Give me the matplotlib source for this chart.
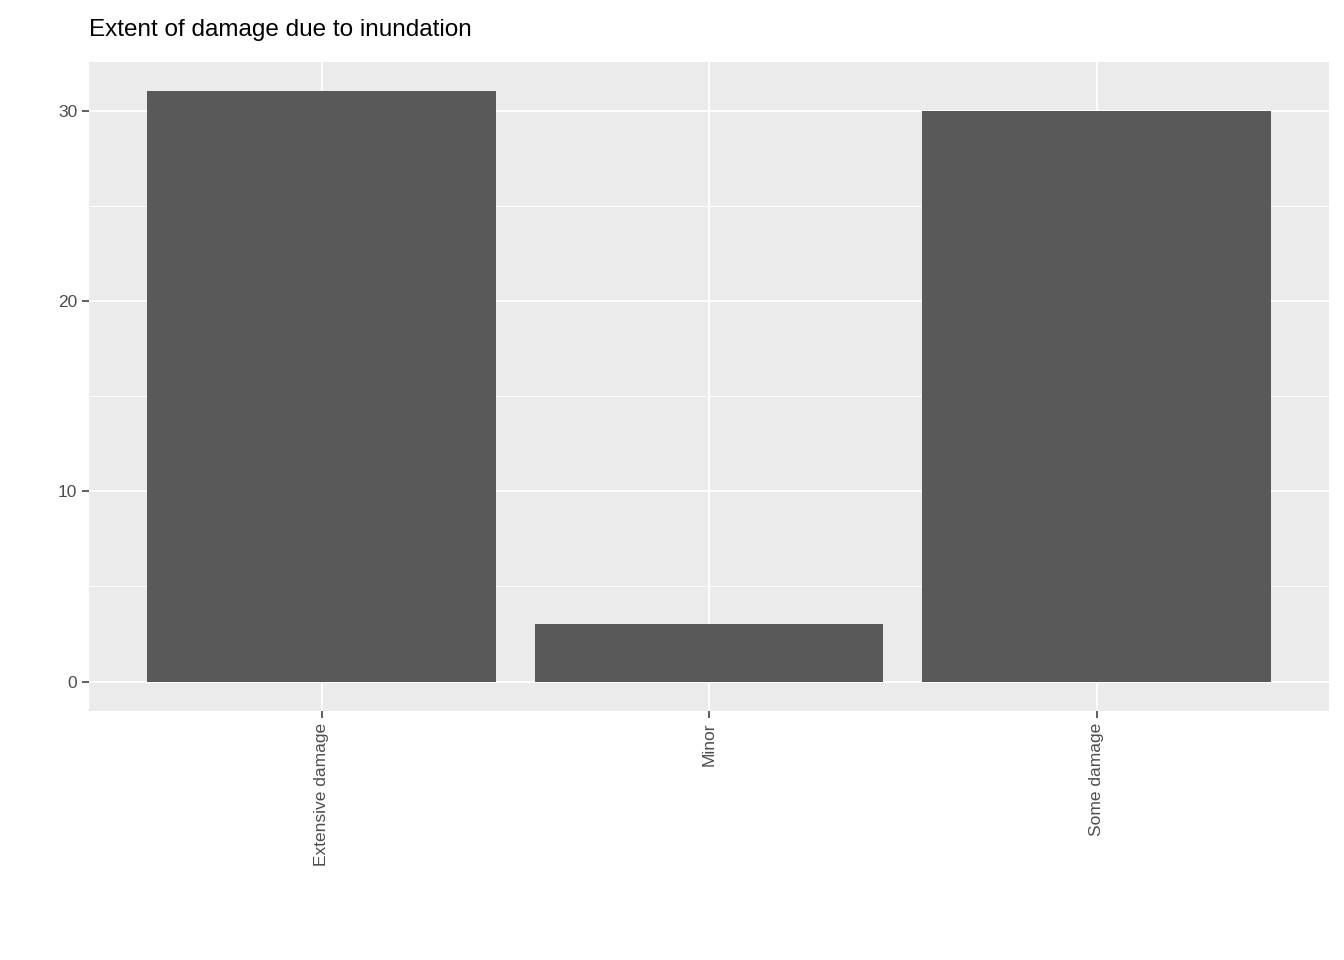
import matplotlib
matplotlib.use("Agg")
import matplotlib.pyplot as plt

categories = ["Extensive damage", "Minor", "Some damage"]
counts = [31, 3, 30]

plt.rcParams["font.family"] = ["Liberation Sans", "DejaVu Sans"]

fig = plt.figure(figsize=(13.44, 9.6), dpi=100)
ax = fig.add_axes([89 / 1344, 249 / 960, 1240 / 1344, 649 / 960])
ax.set_facecolor("#EBEBEB")

x = list(range(1, len(categories) + 1))
ax.bar(x, counts, width=0.9, color="#595959", zorder=3)

ax.set_xlim(0.4, 3.6)
ax.set_ylim(-1.55, 32.55)
ax.set_xticks(x)
ax.set_xticklabels(categories, rotation=90, fontsize=12.5, color="#4D4D4D")
ax.set_yticks([0, 10, 20, 30])
ax.set_yticklabels(["0", "10", "20", "30"], fontsize=12.5, color="#4D4D4D")
ax.set_yticks([5, 15, 25], minor=True)

ax.grid(True, which="major", color="white", linewidth=1.4, zorder=1)
ax.grid(True, which="minor", axis="y", color="white", linewidth=0.7, zorder=1)
ax.tick_params(which="major", length=5, color="#333333", width=1.1)
ax.tick_params(which="minor", length=0)
for s in ax.spines.values():
    s.set_visible(False)

fig.text(89 / 1344, 1 - 30 / 960, "Extent of damage due to inundation",
         fontsize=17.5, va="center", ha="left", color="black")

fig.savefig("out.png", dpi=100)
